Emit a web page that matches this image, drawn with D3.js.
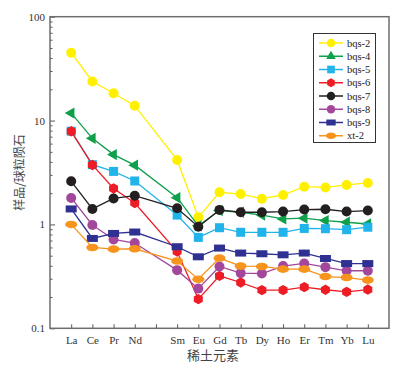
<!DOCTYPE html>
<meta charset="utf-8">
<html>
  <head>
    <style>
      body { margin: 0; background: #fff; }
      .tick text { font-family: "Liberation Serif", serif; font-size: 11px; fill: #333; }
    </style>
    <script src="https://d3js.org/d3.v7.min.js"></script>
  </head>
  <body>
<div id="my_dataviz"></div>
<script>

// REE categories (Pm has a tick but no label / data)
var elements = ["La","Ce","Pr","Nd","Pm","Sm","Eu","Gd","Tb","Dy","Ho","Er","Tm","Yb","Lu"];
var plotted = ["La","Ce","Pr","Nd","Sm","Eu","Gd","Tb","Dy","Ho","Er","Tm","Yb","Lu"];

// chondrite-normalised values
var bqs2 = [45.0, 23.8, 18.3, 13.9, 4.18, 1.17, 2.04, 1.96, 1.77, 1.92, 2.31, 2.27, 2.40, 2.51];
var bqs4 = [11.8, 6.75, 4.70, 3.72, 1.81, 0.97, 1.36, 1.31, 1.23, 1.13, 1.15, 1.09, 1.05, 1.01];
var bqs5 = [7.9, 3.76, 3.24, 2.62, 1.23, 0.75, 0.93, 0.84, 0.84, 0.84, 0.915, 0.91, 0.89, 0.94];
var bqs6 = [7.88, 3.74, 2.22, 1.61, 0.549, 0.191, 0.32, 0.276, 0.233, 0.233, 0.249, 0.235, 0.224, 0.236];
var bqs7 = [2.60, 1.41, 1.78, 1.89, 1.43, 0.95, 1.38, 1.31, 1.31, 1.33, 1.39, 1.40, 1.33, 1.36];
var bqs8 = [1.80, 0.987, 0.717, 0.662, 0.363, 0.241, 0.394, 0.340, 0.337, 0.397, 0.421, 0.388, 0.358, 0.358];
var bqs9 = [1.41, 0.733, 0.819, 0.845, 0.61, 0.488, 0.592, 0.53, 0.522, 0.51, 0.53, 0.47, 0.42, 0.42];
var xt2  = [1.0, 0.60, 0.579, 0.583, 0.444, 0.297, 0.474, 0.397, 0.394, 0.371, 0.371, 0.315, 0.308, 0.291];

var seriesNames = ["bqs-2","bqs-4","bqs-5","bqs-6","bqs-7","bqs-8","bqs-9","xt-2"];
var seriesValues = [bqs2, bqs4, bqs5, bqs6, bqs7, bqs8, bqs9, xt2];
var colors = ["#fff000","#0ea04b","#21b4ea","#ee1c25","#231f20","#a3479c","#2e3192","#f7941d"];
var shapes = ["circle","triangle","square","pentagon","circle","circle","rect","ellipse"];

var width = 400, height = 374;
var plotLeft = 50, plotRight = 389, plotTop = 16.7, plotBottom = 328.3;

var svg = d3.select("#my_dataviz")
  .append("svg")
  .attr("width", width)
  .attr("height", height);

var x = d3.scalePoint()
  .domain(elements)
  .range([plotLeft, plotRight])
  .padding(1);

var y = d3.scaleLog()
  .domain([0.1, 100])
  .range([plotBottom, plotTop]);

// bottom axis, ticks pointing inward
var xAxis = svg.append("g")
  .attr("transform", "translate(0," + plotBottom + ")")
  .call(d3.axisBottom(x).tickSize(-4).tickPadding(8)
    .tickFormat(function(d) { return d == "Pm" ? "" : d; }));
xAxis.select(".domain").remove();
xAxis.selectAll(".tick line").attr("stroke", "#555");

// left axis: minor ticks then major
var minor = [];
[0.1, 1, 10].forEach(function(b) {
  for (var i = 2; i <= 9; i++) minor.push(b * i);
});
var yMinor = svg.append("g")
  .attr("transform", "translate(" + plotLeft + ",0)")
  .call(d3.axisLeft(y).tickValues(minor).tickSize(-2.5).tickFormat(""));
yMinor.select(".domain").remove();
yMinor.selectAll(".tick line").attr("stroke", "#555");

var yAxis = svg.append("g")
  .attr("transform", "translate(" + plotLeft + ",0)")
  .call(d3.axisLeft(y).tickValues([0.1, 1, 10, 100]).tickSize(-5).tickPadding(5)
    .tickFormat(function(d) { return d < 1 ? "0.1" : d3.format("d")(d); }));
yAxis.select(".domain").remove();
yAxis.selectAll(".tick line").attr("stroke", "#555");

// frame
svg.append("rect")
  .attr("x", plotLeft).attr("y", plotTop)
  .attr("width", plotRight - plotLeft).attr("height", plotBottom - plotTop)
  .attr("fill", "none")
  .attr("stroke", "#6e6e6e")
  .attr("stroke-width", 1.5);

// axis titles
svg.append("text")
  .attr("transform", "translate(20," + ((plotTop + plotBottom) / 2) + ") rotate(-90)")
  .attr("text-anchor", "middle")
  .attr("dy", "0.35em")
  .style("font-family", "Noto Sans CJK SC")
  .style("font-size", "12px")
  .style("fill", "#444")
  .text("样品/球粒陨石");

svg.append("text")
  .attr("x", 213).attr("y", 360)
  .attr("text-anchor", "middle")
  .style("font-family", "Noto Sans CJK SC")
  .style("font-size", "13px")
  .style("fill", "#444")
  .text("稀土元素");

// marker drawing
function drawMarker(g, shape, color, legend) {
  if (shape == "circle") {
    g.append("circle").attr("r", 5).attr("fill", color);
  } else if (shape == "triangle") {
    g.append("path").attr("d", d3.symbol(d3.symbolTriangle, 55)())
      .attr("transform", legend ? null : "rotate(-90)")
      .attr("fill", color);
  } else if (shape == "square") {
    g.append("rect").attr("x", -4.5).attr("y", -4.5).attr("width", 9).attr("height", 9).attr("fill", color);
  } else if (shape == "pentagon") {
    var pts = d3.range(6).map(function(i) {
      var a = i * Math.PI / 3 + Math.PI / 6;
      return [5.2 * Math.cos(a), 5.2 * Math.sin(a)];
    });
    g.append("polygon").attr("points", pts.join(" ")).attr("fill", color);
  } else if (shape == "rect") {
    g.append("rect").attr("x", -5.5).attr("y", -3.5).attr("width", 11).attr("height", 7).attr("fill", color);
  } else if (shape == "ellipse") {
    g.append("ellipse").attr("rx", 6).attr("ry", 3.8).attr("fill", color);
  }
}

var line = d3.line()
  .x(function(d) { return x(d.el); })
  .y(function(d) { return y(d.v); });

// series in legend order, later ones drawn on top
seriesNames.forEach(function(name, s) {
  var pts = plotted.map(function(el, i) { return {el: el, v: seriesValues[s][i]}; });
  var g = svg.append("g");
  g.append("path")
    .datum(pts)
    .attr("d", line)
    .attr("fill", "none")
    .attr("stroke", colors[s])
    .attr("stroke-width", 1.3);
  pts.forEach(function(p) {
    var m = g.append("g").attr("transform", "translate(" + x(p.el) + "," + y(p.v) + ")");
    drawMarker(m, shapes[s], colors[s], false);
  });
});

// legend
var legend = svg.append("g");
legend.append("rect")
  .attr("x", 313.5).attr("y", 33.5)
  .attr("width", 62).attr("height", 109)
  .attr("fill", "#fff")
  .attr("stroke", "#333")
  .attr("stroke-width", 1);

seriesNames.forEach(function(name, i) {
  var ly = 43 + i * 13.25;
  var row = legend.append("g").attr("transform", "translate(0," + ly + ")");
  row.append("line")
    .attr("x1", 319).attr("x2", 343)
    .attr("stroke", colors[i]).attr("stroke-width", 1.5);
  var m = row.append("g").attr("transform", "translate(331,0) scale(0.85)");
  drawMarker(m, shapes[i], colors[i], true);
  row.append("text")
    .attr("x", 347).attr("y", 0)
    .attr("dy", "0.35em")
    .style("font-family", "Liberation Serif")
    .style("font-size", "10.5px")
    .style("fill", "#222")
    .text(name);
});

</script>
</body>
</html>
